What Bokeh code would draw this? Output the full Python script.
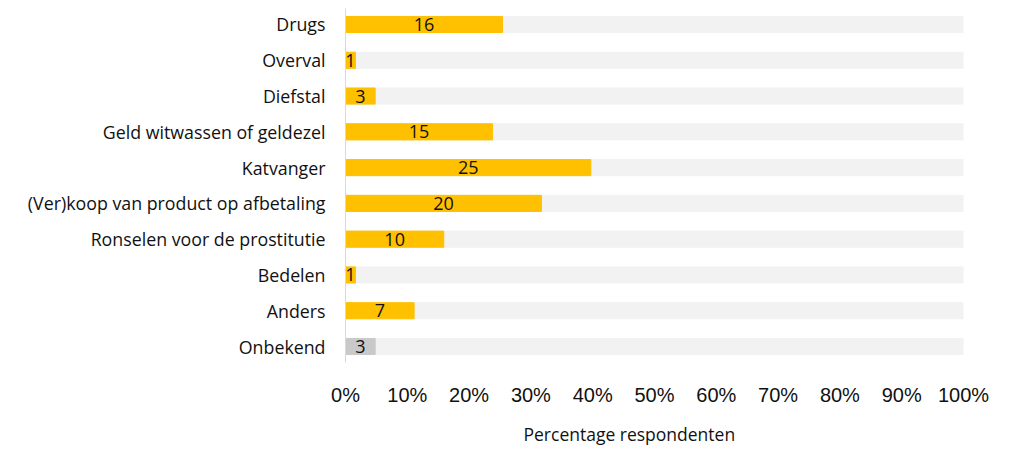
from bokeh.plotting import figure
from bokeh.models import Range1d, FixedTicker, ColumnDataSource, Title
from bokeh.core.properties import value
from bokeh.embed import file_html
from bokeh.resources import INLINE

categories = ["Drugs", "Overval", "Diefstal", "Geld witwassen of geldezel", "Katvanger",
              "(Ver)koop van product op afbetaling", "Ronselen voor de prostitutie",
              "Bedelen", "Anders", "Onbekend"]
counts = [16, 1, 3, 15, 25, 20, 10, 1, 7, 3]
percentages = [25.4, 1.6, 4.8, 23.8, 39.7, 31.7, 15.9, 1.6, 11.1, 4.8]
bar_colors = ["#FFC000"] * 9 + ["#C9C9C9"]
x_ticks = [0, 10, 20, 30, 40, 50, 60, 70, 80, 90, 100]

ypos = list(range(len(categories)))
src = ColumnDataSource(dict(
    y=ypos, pct=percentages, mid=[v / 2 for v in percentages],
    lab=[str(c) for c in counts], color=bar_colors, full=[100] * len(categories)))

p = figure(width=1009, height=457, output_backend="svg", toolbar_location=None,
           x_range=Range1d(0, 100), y_range=Range1d(9.447, -0.447),
           min_border_left=345, min_border_right=46, min_border_top=8, min_border_bottom=95)
p.outline_line_color = None
p.grid.grid_line_color = None
p.background_fill_color = "white"

p.hbar(y="y", left=0, right="full", height=0.45, color="#F2F2F2", source=src)
p.hbar(y="y", left=0, right="pct", height=0.45, color="color", source=src)
p.text(x="mid", y="y", text="lab", source=src, text_align="center", text_baseline="middle",
       text_font=value("Open Sans"), text_font_size="18px", text_color="#111111")

p.yaxis.ticker = FixedTicker(ticks=ypos)
p.yaxis.major_label_overrides = {i: c for i, c in enumerate(categories)}
p.yaxis.major_tick_line_color = None
p.yaxis.minor_tick_line_color = None
p.yaxis.axis_line_color = "#D9D9D9"
p.yaxis.major_label_text_font = "Open Sans"
p.yaxis.major_label_text_font_size = "17.8px"
p.yaxis.major_label_text_color = "#111111"
p.yaxis.major_label_standoff = 14

p.xaxis.ticker = FixedTicker(ticks=x_ticks)
p.xaxis.major_label_overrides = {t: f"{t}%" for t in x_ticks}
p.xaxis.major_tick_line_color = None
p.xaxis.minor_tick_line_color = None
p.xaxis.axis_line_color = None
p.xaxis.major_label_text_font = "Liberation Sans"
p.xaxis.major_label_text_font_size = "20px"
p.xaxis.major_label_text_color = "#111111"
p.xaxis.major_label_standoff = 15

p.add_layout(Title(text="Percentage respondenten", align="left", offset=178,
                   text_font="Open Sans", text_font_size="17.5px", text_font_style="normal",
                   text_color="#111111", standoff=22), "below")

open("out.html", "w").write(file_html(p, INLINE))
